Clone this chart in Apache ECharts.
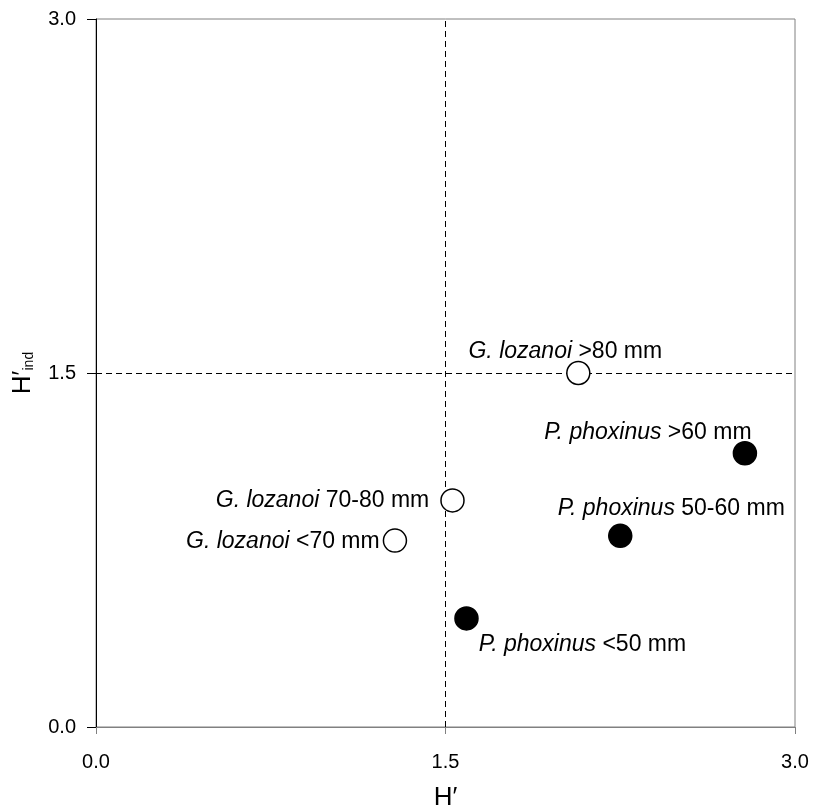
<!DOCTYPE html>
<html><head><meta charset="utf-8">
<script src="https://cdn.jsdelivr.net/npm/echarts@6/dist/echarts.min.js"></script>
<style>html,body{margin:0;padding:0;background:#fff}#c{width:816px;height:810px}</style>
</head><body><div id="c"></div>
<script>
var species = ['G. lozanoi', 'P. phoxinus', 'G. lozanoi', 'G. lozanoi', 'P. phoxinus', 'P. phoxinus'];
var sizeClass = ['>80 mm', '>60 mm', '70-80 mm', '<70 mm', '50-60 mm', '<50 mm'];
var hPrime = [2.07, 2.785, 1.53, 1.283, 2.25, 1.59];
var hInd = [1.50, 1.16, 0.96, 0.79, 0.81, 0.46];
var filled = [false, true, false, false, true, true];
var axisTicks = ['0.0', '1.5', '3.0'];
var refX = 1.5, refY = 1.5;

// label placement (style only)
var labelPlace = [
  {position: 'top', offset: [-13, 7]},
  {position: 'top', offset: [-97, 8]},
  {position: 'left', offset: [-6, 0]},
  {position: 'left', offset: [2, 1]},
  {position: 'top', offset: [51, 2]},
  {position: 'bottom', offset: [116, -3]}
];

var FONT = 'Liberation Sans, Arial, sans-serif';
var LF = 23;
var data = hPrime.map(function (x, i) {
  return {
    value: [x, hInd[i]],
    itemStyle: filled[i] ? {color: '#000', borderColor: '#000', borderWidth: 1.5, opacity: 1}
                         : {color: '#fff', borderColor: '#000', borderWidth: 1.5, opacity: 1},
    label: {
      show: true,
      position: labelPlace[i].position,
      offset: labelPlace[i].offset,
      distance: 5,
      color: '#000',
      opacity: 1,
      formatter: '{i|' + species[i] + '}{n| ' + sizeClass[i] + '}',
      rich: {
        i: {fontStyle: 'italic', fontSize: LF, fontFamily: FONT, color: '#000'},
        n: {fontSize: LF, fontFamily: FONT, color: '#000'}
      }
    }
  };
});

var chart = echarts.init(document.getElementById('c'), null, {renderer: 'canvas'});
chart.setOption({
  animation: false,
  backgroundColor: '#fff',
  grid: {left: 96, right: 21, top: 19, bottom: 83, show: true, borderColor: '#808080', borderWidth: 1,
    containLabel: false, outerBoundsMode: 'none'},
  xAxis: {
    type: 'value', min: 0, max: 3, interval: 1.5,
    name: 'H′', nameLocation: 'middle', nameGap: 58,
    nameTextStyle: {fontSize: 26, fontFamily: FONT, color: '#000'},
    axisLine: {show: true, onZero: false, lineStyle: {color: '#808080', width: 1}},
    axisTick: {show: true, inside: false, length: 7, lineStyle: {color: '#808080'}},
    axisLabel: {fontSize: 20, fontFamily: FONT, color: '#000', margin: 25,
      formatter: function (v) { return axisTicks[Math.round(v / 1.5)]; }},
    splitLine: {show: false}
  },
  yAxis: {
    type: 'value', min: 0, max: 3, interval: 1.5,
    name: '{a|H′}{b|ind}', nameLocation: 'middle', nameGap: 60, nameRotate: 90,
    nameTextStyle: {
      rich: {
        a: {fontSize: 26, fontFamily: FONT, color: '#000', verticalAlign: 'bottom'},
        b: {fontSize: 14, fontFamily: FONT, color: '#000', verticalAlign: 'top', padding: [27, 0, 0, 0]}
      }
    },
    axisLine: {show: true, onZero: false, lineStyle: {color: '#000', width: 1}},
    axisTick: {show: true, inside: false, length: 9, lineStyle: {color: '#000'}},
    axisLabel: {fontSize: 20, fontFamily: FONT, color: '#000', margin: 20,
      formatter: function (v) { return axisTicks[Math.round(v / 1.5)]; }},
    splitLine: {show: false}
  },
  series: [{
    type: 'scatter',
    symbol: 'circle',
    symbolSize: 23,
    data: data,
    z: 5,
    markLine: {
      silent: true,
      symbol: ['none', 'none'],
      label: {show: false},
      lineStyle: {color: '#000', type: [6, 4], width: 1, opacity: 1},
      data: [{xAxis: refX}, {yAxis: refY}]
    }
  }]
});
</script></body></html>
